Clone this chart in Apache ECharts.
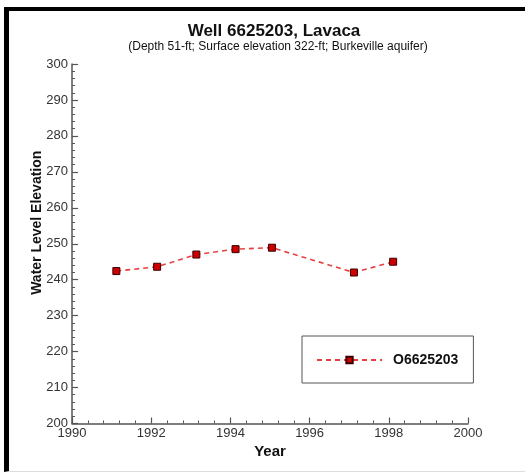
<!DOCTYPE html>
<html>
<head>
<meta charset="utf-8">
<script src="https://cdn.jsdelivr.net/npm/echarts@6/dist/echarts.min.js"></script>
<style>
  html, body { margin: 0; padding: 0; background: #fff; }
  #wrap { position: relative; width: 525px; height: 474px; }
  #chart { position: absolute; left: 0; top: 0; width: 525px; height: 474px; }
  #frame {
    position: absolute; left: 4px; top: 7px; width: 521px; height: 465px;
    border-top: 4px solid #000; border-left: 5px solid #000;
    border-bottom: 1px solid #ddd;
    box-sizing: border-box; pointer-events: none;
  }
</style>
</head>
<body>
<div id="wrap">
  <div id="chart"></div>
  <div id="frame"></div>
</div>
<script>
// Measured water level elevations for well 6625203 (Lavaca County)
const years = [1991.12, 1992.15, 1993.14, 1994.13, 1995.05, 1997.12, 1998.11];
const levels = [242.4, 243.6, 247.0, 248.5, 248.9, 242.0, 245.0];
const seriesName = 'O6625203';
const titleText = 'Well 6625203, Lavaca';
const subtitleText = '(Depth 51-ft; Surface elevation 322-ft; Burkeville aquifer)';

const font = 'Liberation Sans, Arial, Helvetica, sans-serif';
const axisGray = '#555';

const chart = echarts.init(document.getElementById('chart'), null, { renderer: 'canvas' });

chart.setOption({
  animation: false,
  backgroundColor: '#fff',
  title: [
    {
      text: titleText, left: 274, top: 22, textAlign: 'center', padding: 0,
      textStyle: { fontFamily: font, fontSize: 17, fontWeight: 'bold', color: '#111', lineHeight: 18 }
    },
    {
      text: subtitleText, left: 278, top: 41, textAlign: 'center', padding: 0,
      textStyle: { fontFamily: font, fontSize: 12, fontWeight: 'normal', color: '#111', lineHeight: 12 }
    }
  ],
  grid: { left: 72, right: 57, top: 64, bottom: 50.5, containLabel: false },
  legend: {
    left: 302, top: 336,
    orient: 'horizontal',
    padding: [17, 15, 16, 14],
    borderColor: '#555', borderWidth: 1,
    itemWidth: 65, itemHeight: 8,
    data: [seriesName],
    textStyle: { fontFamily: font, fontSize: 14, fontWeight: 'bold', color: '#111', padding: [0, 0, 0, 6] }
  },
  xAxis: {
    type: 'value', min: 1990, max: 2000, interval: 2,
    name: 'Year', nameLocation: 'middle', nameGap: 21,
    nameTextStyle: { fontFamily: font, fontSize: 15, fontWeight: 'bold', color: '#111' },
    axisLine: { lineStyle: { color: axisGray, width: 1.5 } },
    axisTick: { inside: true, length: 6, lineStyle: { color: axisGray, width: 1.2 } },
    minorTick: { show: true, splitNumber: 5, length: 3, lineStyle: { color: axisGray, width: 1 } },
    axisLabel: { fontFamily: font, fontSize: 13, color: '#333', margin: 3, formatter: v => String(v) },
    splitLine: { show: false }
  },
  yAxis: {
    type: 'value', min: 200, max: 300, interval: 10,
    name: 'Water Level Elevation', nameLocation: 'middle', nameGap: 28,
    nameMoveOverlap: false,
    nameTextStyle: { fontFamily: font, fontSize: 14, fontWeight: 'bold', color: '#111', padding: [0, 0, 0, 42] },
    axisLine: { lineStyle: { color: axisGray, width: 1.5 } },
    axisTick: { inside: true, length: 6, lineStyle: { color: axisGray, width: 1.2 } },
    minorTick: { show: true, splitNumber: 5, length: 3, lineStyle: { color: axisGray, width: 1 } },
    axisLabel: { fontFamily: font, fontSize: 13, color: '#333', margin: 4 },
    splitLine: { show: false }
  },
  series: [
    {
      name: seriesName,
      type: 'line',
      data: years.map((y, i) => [y, levels[i]]),
      symbol: 'rect', symbolSize: 7,
      lineStyle: { color: '#e84040', width: 1.6, type: [5, 4] },
      itemStyle: { color: '#cc0000', borderColor: '#3a0000', borderWidth: 1 }
    }
  ]
});
</script>
</body>
</html>
